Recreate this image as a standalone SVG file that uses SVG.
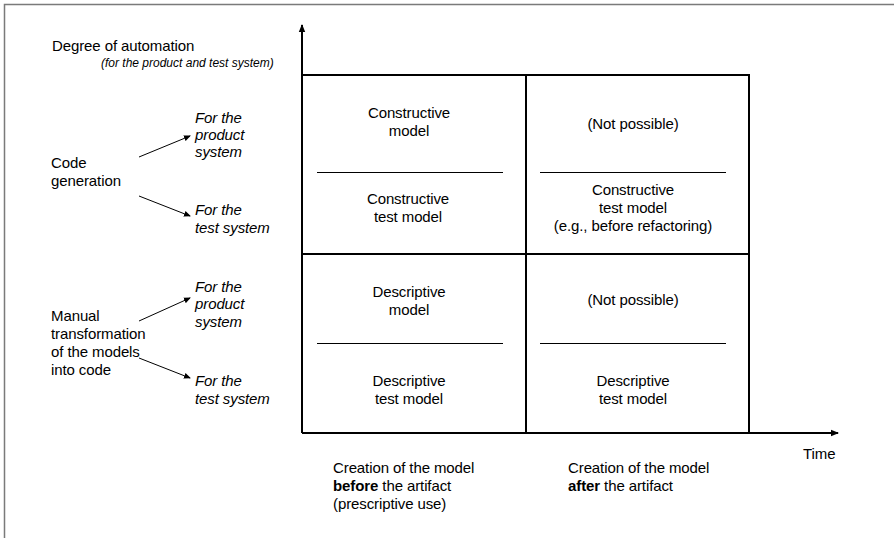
<svg xmlns="http://www.w3.org/2000/svg" width="894" height="538" viewBox="0 0 894 538">
  <defs>
    <marker id="axisHead" markerWidth="8" markerHeight="8" refX="7" refY="4" orient="auto" markerUnits="userSpaceOnUse">
      <path d="M0,0.8 L8,4 L0,7.2 Z" fill="#000"/>
    </marker>
    <marker id="smallHead" markerWidth="7" markerHeight="7" refX="6" refY="3.5" orient="auto" markerUnits="userSpaceOnUse">
      <path d="M0,0.5 L7,3.5 L0,6.5 Z" fill="#000"/>
    </marker>
    <style>
      text { font-family: "Liberation Sans", Arial, sans-serif; font-size: 15px; fill: #000; letter-spacing: -0.1px; }
      .it { font-style: italic; }
      .small { font-size: 12px; letter-spacing: 0; }
      .mid { text-anchor: middle; }
      .b { font-weight: bold; }
      .grid { stroke: #000; stroke-width: 2; fill: none; }
      .sep { stroke: #000; stroke-width: 1; }
      .axis { stroke: #000; stroke-width: 2; fill: none; }
      .link { stroke: #000; stroke-width: 1; fill: none; marker-end: url(#smallHead); }
    </style>
  </defs>
  <rect width="894" height="538" fill="#fff"/>
  <!-- page frame (top and left edges only) -->
  <path d="M4.5,538 V4.5 H894" fill="none" stroke="#7a7a7a" stroke-width="1.5"/>

  <!-- axes -->
  <g id="axes">
    <line class="axis" x1="302" y1="433" x2="302" y2="25" marker-end="url(#axisHead)"/>
    <line class="axis" x1="302" y1="433" x2="838" y2="433" marker-end="url(#axisHead)"/>
    <text x="52" y="51">Degree of automation</text>
    <text class="it small" x="101" y="67">(for the product and test system)</text>
    <text x="803" y="459">Time</text>
  </g>

  <!-- matrix outline -->
  <g id="matrix">
    <path class="grid" d="M302,75 H749 V433 M526,75 V433 M302,254 H749"/>
  </g>

  <g id="cell-constructive-before">
    <text class="mid" x="409" y="118">Constructive</text>
    <text class="mid" x="409" y="136">model</text>
    <line class="sep" x1="317" y1="172.5" x2="503" y2="172.5"/>
    <text class="mid" x="408" y="204">Constructive</text>
    <text class="mid" x="408" y="222">test model</text>
  </g>

  <g id="cell-constructive-after">
    <text class="mid" x="633" y="129">(Not possible)</text>
    <line class="sep" x1="540" y1="172.5" x2="726" y2="172.5"/>
    <text class="mid" x="633" y="195">Constructive</text>
    <text class="mid" x="633" y="213">test model</text>
    <text class="mid" x="633" y="231">(e.g., before refactoring)</text>
  </g>

  <g id="cell-descriptive-before">
    <text class="mid" x="409" y="297">Descriptive</text>
    <text class="mid" x="409" y="315">model</text>
    <line class="sep" x1="317" y1="343.5" x2="503" y2="343.5"/>
    <text class="mid" x="409" y="386">Descriptive</text>
    <text class="mid" x="409" y="404">test model</text>
  </g>

  <g id="cell-descriptive-after">
    <text class="mid" x="633" y="305">(Not possible)</text>
    <line class="sep" x1="540" y1="343.5" x2="726" y2="343.5"/>
    <text class="mid" x="633" y="386">Descriptive</text>
    <text class="mid" x="633" y="404">test model</text>
  </g>

  <!-- row labels -->
  <g id="code-generation">
    <text x="51" y="168">Code</text>
    <text x="51" y="186">generation</text>
  </g>
  <g id="cg-product">
    <text class="it" x="195" y="123">For the</text>
    <text class="it" x="195" y="140">product</text>
    <text class="it" x="195" y="157">system</text>
  </g>
  <g id="cg-test">
    <text class="it" x="195" y="215">For the</text>
    <text class="it" x="195" y="233">test system</text>
  </g>

  <g id="manual-transformation">
    <text x="51" y="321">Manual</text>
    <text x="51" y="339">transformation</text>
    <text x="51" y="357">of the models</text>
    <text x="51" y="375">into code</text>
  </g>
  <g id="mt-product">
    <text class="it" x="195" y="292">For the</text>
    <text class="it" x="195" y="309">product</text>
    <text class="it" x="195" y="327">system</text>
  </g>
  <g id="mt-test">
    <text class="it" x="195" y="386">For the</text>
    <text class="it" x="195" y="404">test system</text>
  </g>

  <!-- column labels -->
  <g id="col-before">
    <text x="333" y="473">Creation of the model</text>
    <text x="333" y="491"><tspan class="b">before</tspan> the artifact</text>
    <text x="333" y="509">(prescriptive use)</text>
  </g>
  <g id="col-after">
    <text x="568" y="473">Creation of the model</text>
    <text x="568" y="491"><tspan class="b">after</tspan> the artifact</text>
  </g>

  <!-- connectors -->
  <g id="connectors">
    <line class="link" x1="139" y1="157" x2="190" y2="136"/>
    <line class="link" x1="139" y1="196" x2="190" y2="216"/>
    <line class="link" x1="139" y1="321" x2="190" y2="298"/>
    <line class="link" x1="139" y1="358" x2="190" y2="378"/>
  </g>
</svg>
